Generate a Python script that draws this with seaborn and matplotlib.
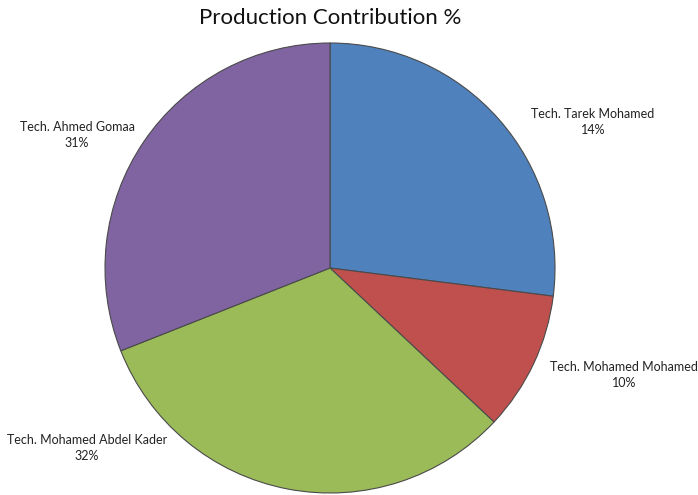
import matplotlib
matplotlib.use("Agg")
import matplotlib.pyplot as plt
import seaborn as sns

# Data
names = ["Tech. Tarek Mohamed", "Tech. Mohamed Mohamed",
         "Tech. Mohamed Abdel Kader", "Tech. Ahmed Gomaa"]
shares = [27, 10, 32, 31]            # wedge sizes as drawn
pct_labels = ["14%", "10%", "32%", "31%"]  # percentages as printed
colors = ["#4F81BD", "#C0504D", "#9BBB59", "#8064A2"]

sns.set_theme(style="white")
plt.rcParams["font.family"] = ["Lato", "DejaVu Sans"]

W, H = 698, 495
fig = plt.figure(figsize=(W / 100, H / 100), dpi=100)

# pie centre (330, 268) px, radius 225 px
cx, cy, r = 330, 268, 225
ax = fig.add_axes([(cx - r) / W, (H - cy - r) / H, 2 * r / W, 2 * r / H])
ax.pie(shares, colors=colors, startangle=90, counterclock=False,
       wedgeprops=dict(edgecolor="#4a4a4a", linewidth=0.8))
ax.set_xlim(-1, 1)
ax.set_ylim(-1, 1)
ax.set_aspect("auto")
ax.axis("off")

# label positions (pixel centres in the figure)
label_pos = [(593, 122), (624, 375), (87, 448), (77, 135)]
for (px, py), name, pct in zip(label_pos, names, pct_labels):
    fig.text(px / W, 1 - py / H, f"{name}\n{pct}", ha="center", va="center",
             fontsize=9, color="#222222", linespacing=1.35)

fig.text(cx / W, 1 - 18 / H, "Production Contribution %", ha="center",
         va="center", fontsize=16, color="#111111")

fig.savefig("out.png", dpi=100)
